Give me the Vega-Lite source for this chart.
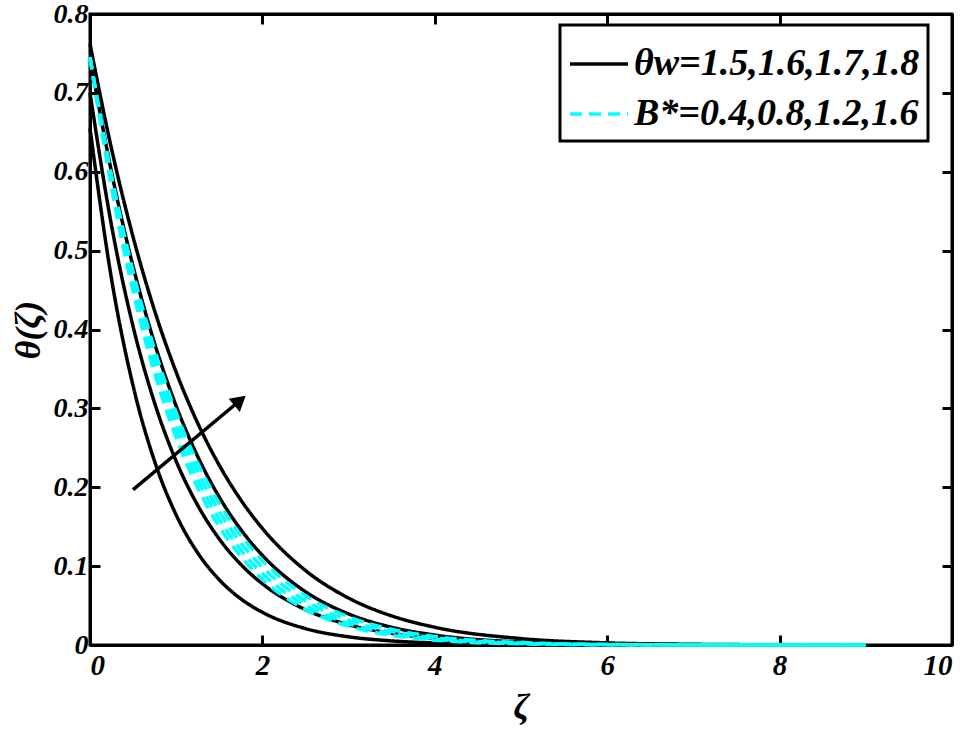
{
  "$schema": "https://vega.github.io/schema/vega-lite/v6.json",
  "width": 862,
  "height": 631,
  "autosize": "none",
  "padding": {"left": 90, "top": 14, "right": 17, "bottom": 85},
  "background": "white",
  "config": {
    "view": {"stroke": "black", "strokeWidth": 3},
    "font": "Liberation Serif",
    "axis": {
      "grid": false,
      "domainColor": "black",
      "domainWidth": 3,
      "tickColor": "black",
      "tickWidth": 3,
      "tickSize": -10
    }
  },
  "datasets": {
    "curves": [
      {"z":0,"t":0.655,"c":"A","g":"w"},{"z":0.25,"t":0.4639,"c":"A","g":"w"},{"z":0.5,"t":0.3285,"c":"A","g":"w"},{"z":0.75,"t":0.2327,"c":"A","g":"w"},{"z":1,"t":0.1648,"c":"A","g":"w"},{"z":1.25,"t":0.1167,"c":"A","g":"w"},{"z":1.5,"t":0.0827,"c":"A","g":"w"},{"z":1.75,"t":0.0585,"c":"A","g":"w"},{"z":2,"t":0.0415,"c":"A","g":"w"},{"z":2.5,"t":0.0208,"c":"A","g":"w"},{"z":3,"t":0.0104,"c":"A","g":"w"},{"z":3.5,"t":0.0052,"c":"A","g":"w"},{"z":4,"t":0.0026,"c":"A","g":"w"},{"z":5,"t":0.0007,"c":"A","g":"w"},{"z":6,"t":0.0002,"c":"A","g":"w"},{"z":7,"t":0,"c":"A","g":"w"},{"z":8,"t":0,"c":"A","g":"w"},{"z":9,"t":0,"c":"A","g":"w"},
      {"z":0,"t":0.700,"c":"B","g":"w"},{"z":0.25,"t":0.5317,"c":"B","g":"w"},{"z":0.5,"t":0.4038,"c":"B","g":"w"},{"z":0.75,"t":0.3067,"c":"B","g":"w"},{"z":1,"t":0.2330,"c":"B","g":"w"},{"z":1.25,"t":0.1770,"c":"B","g":"w"},{"z":1.5,"t":0.1344,"c":"B","g":"w"},{"z":1.75,"t":0.1021,"c":"B","g":"w"},{"z":2,"t":0.0776,"c":"B","g":"w"},{"z":2.5,"t":0.0448,"c":"B","g":"w"},{"z":3,"t":0.0258,"c":"B","g":"w"},{"z":3.5,"t":0.0149,"c":"B","g":"w"},{"z":4,"t":0.0086,"c":"B","g":"w"},{"z":5,"t":0.0029,"c":"B","g":"w"},{"z":6,"t":0.0010,"c":"B","g":"w"},{"z":7,"t":0.0003,"c":"B","g":"w"},{"z":8,"t":0.0001,"c":"B","g":"w"},{"z":9,"t":0,"c":"B","g":"w"},
      {"z":0,"t":0.745,"c":"C","g":"w"},{"z":0.25,"t":0.5994,"c":"C","g":"w"},{"z":0.5,"t":0.4798,"c":"C","g":"w"},{"z":0.75,"t":0.3822,"c":"C","g":"w"},{"z":1,"t":0.3029,"c":"C","g":"w"},{"z":1.25,"t":0.2389,"c":"C","g":"w"},{"z":1.5,"t":0.1874,"c":"C","g":"w"},{"z":1.75,"t":0.1463,"c":"C","g":"w"},{"z":2,"t":0.1137,"c":"C","g":"w"},{"z":2.5,"t":0.0676,"c":"C","g":"w"},{"z":3,"t":0.0394,"c":"C","g":"w"},{"z":3.5,"t":0.0225,"c":"C","g":"w"},{"z":4,"t":0.0126,"c":"C","g":"w"},{"z":5,"t":0.0037,"c":"C","g":"w"},{"z":6,"t":0.0010,"c":"C","g":"w"},{"z":7,"t":0.0003,"c":"C","g":"w"},{"z":8,"t":0.0001,"c":"C","g":"w"},{"z":9,"t":0,"c":"C","g":"w"},
      {"z":0,"t":0.762,"c":"D","g":"w"},{"z":0.25,"t":0.6290,"c":"D","g":"w"},{"z":0.5,"t":0.5172,"c":"D","g":"w"},{"z":0.75,"t":0.4237,"c":"D","g":"w"},{"z":1,"t":0.3458,"c":"D","g":"w"},{"z":1.25,"t":0.2812,"c":"D","g":"w"},{"z":1.5,"t":0.2278,"c":"D","g":"w"},{"z":1.75,"t":0.1839,"c":"D","g":"w"},{"z":2,"t":0.1478,"c":"D","g":"w"},{"z":2.5,"t":0.0945,"c":"D","g":"w"},{"z":3,"t":0.0595,"c":"D","g":"w"},{"z":3.5,"t":0.0369,"c":"D","g":"w"},{"z":4,"t":0.0225,"c":"D","g":"w"},{"z":5,"t":0.0081,"c":"D","g":"w"},{"z":6,"t":0.0027,"c":"D","g":"w"},{"z":7,"t":0.0009,"c":"D","g":"w"},{"z":8,"t":0.0003,"c":"D","g":"w"},{"z":9,"t":0.0001,"c":"D","g":"w"},
      {"z":0,"t":0.745,"c":"E","g":"b"},{"z":0.25,"t":0.5955,"c":"E","g":"b"},{"z":0.5,"t":0.4734,"c":"E","g":"b"},{"z":0.75,"t":0.3743,"c":"E","g":"b"},{"z":1,"t":0.2945,"c":"E","g":"b"},{"z":1.25,"t":0.2304,"c":"E","g":"b"},{"z":1.5,"t":0.1793,"c":"E","g":"b"},{"z":1.75,"t":0.1388,"c":"E","g":"b"},{"z":2,"t":0.1069,"c":"E","g":"b"},{"z":2.5,"t":0.0624,"c":"E","g":"b"},{"z":3,"t":0.0357,"c":"E","g":"b"},{"z":3.5,"t":0.0199,"c":"E","g":"b"},{"z":4,"t":0.0109,"c":"E","g":"b"},{"z":5,"t":0.0031,"c":"E","g":"b"},{"z":6,"t":0.0008,"c":"E","g":"b"},{"z":7,"t":0.0002,"c":"E","g":"b"},{"z":8,"t":0,"c":"E","g":"b"},{"z":9,"t":0,"c":"E","g":"b"},
      {"z":0,"t":0.745,"c":"F","g":"b"},{"z":0.25,"t":0.5902,"c":"F","g":"b"},{"z":0.5,"t":0.4649,"c":"F","g":"b"},{"z":0.75,"t":0.3641,"c":"F","g":"b"},{"z":1,"t":0.2835,"c":"F","g":"b"},{"z":1.25,"t":0.2196,"c":"F","g":"b"},{"z":1.5,"t":0.1690,"c":"F","g":"b"},{"z":1.75,"t":0.1294,"c":"F","g":"b"},{"z":2,"t":0.0985,"c":"F","g":"b"},{"z":2.5,"t":0.0561,"c":"F","g":"b"},{"z":3,"t":0.0312,"c":"F","g":"b"},{"z":3.5,"t":0.0170,"c":"F","g":"b"},{"z":4,"t":0.0090,"c":"F","g":"b"},{"z":5,"t":0.0024,"c":"F","g":"b"},{"z":6,"t":0.0006,"c":"F","g":"b"},{"z":7,"t":0.0001,"c":"F","g":"b"},{"z":8,"t":0,"c":"F","g":"b"},{"z":9,"t":0,"c":"F","g":"b"},
      {"z":0,"t":0.745,"c":"G","g":"b"},{"z":0.25,"t":0.5850,"c":"G","g":"b"},{"z":0.5,"t":0.4566,"c":"G","g":"b"},{"z":0.75,"t":0.3541,"c":"G","g":"b"},{"z":1,"t":0.2730,"c":"G","g":"b"},{"z":1.25,"t":0.2092,"c":"G","g":"b"},{"z":1.5,"t":0.1593,"c":"G","g":"b"},{"z":1.75,"t":0.1205,"c":"G","g":"b"},{"z":2,"t":0.0907,"c":"G","g":"b"},{"z":2.5,"t":0.0504,"c":"G","g":"b"},{"z":3,"t":0.0273,"c":"G","g":"b"},{"z":3.5,"t":0.0144,"c":"G","g":"b"},{"z":4,"t":0.0074,"c":"G","g":"b"},{"z":5,"t":0.0018,"c":"G","g":"b"},{"z":6,"t":0.0004,"c":"G","g":"b"},{"z":7,"t":0.0001,"c":"G","g":"b"},{"z":8,"t":0,"c":"G","g":"b"},{"z":9,"t":0,"c":"G","g":"b"},
      {"z":0,"t":0.745,"c":"H","g":"b"},{"z":0.25,"t":0.5798,"c":"H","g":"b"},{"z":0.5,"t":0.4484,"c":"H","g":"b"},{"z":0.75,"t":0.3444,"c":"H","g":"b"},{"z":1,"t":0.2628,"c":"H","g":"b"},{"z":1.25,"t":0.1992,"c":"H","g":"b"},{"z":1.5,"t":0.1500,"c":"H","g":"b"},{"z":1.75,"t":0.1123,"c":"H","g":"b"},{"z":2,"t":0.0834,"c":"H","g":"b"},{"z":2.5,"t":0.0452,"c":"H","g":"b"},{"z":3,"t":0.0238,"c":"H","g":"b"},{"z":3.5,"t":0.0122,"c":"H","g":"b"},{"z":4,"t":0.0061,"c":"H","g":"b"},{"z":5,"t":0.0014,"c":"H","g":"b"},{"z":6,"t":0.0003,"c":"H","g":"b"},{"z":7,"t":0,"c":"H","g":"b"},{"z":8,"t":0,"c":"H","g":"b"},{"z":9,"t":0,"c":"H","g":"b"}
    ],
    "arrow": [{"x1": 0.5, "y1": 0.197, "x2": 1.74, "y2": 0.31}],
    "head": [{"x": 1.74, "y": 0.31}]
  },
  "layer": [
    {
      "data": {"name": "curves"},
      "transform": [{"filter": "datum.g == 'w'"}],
      "mark": {"type": "line", "interpolate": "monotone", "strokeWidth": 3.5},
      "encoding": {
        "x": {"field": "z", "type": "quantitative", "scale": {"domain": [0, 10], "nice": false, "zero": false},
              "axis": {"orient": "bottom", "values": [0, 2, 4, 6, 8, 10], "title": "ζ", "labelPadding": 16, "titlePadding": 10,
                "labelFont": "Liberation Serif", "labelFontSize": 29, "labelFontStyle": "italic", "labelFontWeight": "bold", "labelColor": "black",
                "titleFont": "Liberation Serif", "titleFontSize": 36, "titleFontStyle": "italic", "titleFontWeight": "bold", "titleColor": "black"}},
        "y": {"field": "t", "type": "quantitative", "scale": {"domain": [0, 0.8], "nice": false},
              "axis": {"orient": "left", "values": [0, 0.1, 0.2, 0.3, 0.4, 0.5, 0.6, 0.7, 0.8], "labelExpr": "datum.value == 0 ? '0' : format(datum.value, '.1f')", "title": "θ(ζ)", "labelPadding": 12, "titlePadding": 6,
                "labelFont": "Liberation Serif", "labelFontSize": 28, "labelFontStyle": "italic", "labelFontWeight": "bold", "labelColor": "black",
                "titleFont": "Liberation Serif", "titleFontSize": 36, "titleFontStyle": "italic", "titleFontWeight": "bold", "titleColor": "black"}},
        "detail": {"field": "c"},
        "color": {"field": "g", "type": "nominal", "scale": {"domain": ["w", "b"], "range": ["black", "#00FFFF"]},
          "legend": {"orient": "none", "legendX": 470, "legendY": 11, "title": null, "symbolType": "stroke", "symbolSize": 3364, "symbolStrokeWidth": 3.5,
            "labelFont": "Liberation Serif", "labelFontSize": 38, "labelFontStyle": "italic", "labelFontWeight": "bold", "labelColor": "black", "labelLimit": 0,
            "labelExpr": "datum.value == 'w' ? 'θw=1.5,1.6,1.7,1.8' : 'B*=0.4,0.8,1.2,1.6'",
            "strokeColor": "black", "fillColor": "white", "padding": 8, "rowPadding": -7, "labelOffset": 4,
            "encode": {"legend": {"update": {"strokeWidth": {"value": 3}}}}}},
        "strokeDash": {"field": "g", "type": "nominal", "scale": {"domain": ["w", "b"], "range": [[1, 0], [12, 7]]},
          "legend": {"orient": "none", "legendX": 470, "legendY": 11, "title": null, "symbolType": "stroke", "symbolSize": 3364, "symbolStrokeWidth": 3.5,
            "labelFont": "Liberation Serif", "labelFontSize": 38, "labelFontStyle": "italic", "labelFontWeight": "bold", "labelColor": "black", "labelLimit": 0,
            "labelExpr": "datum.value == 'w' ? 'θw=1.5,1.6,1.7,1.8' : 'B*=0.4,0.8,1.2,1.6'",
            "strokeColor": "black", "fillColor": "white", "padding": 8, "rowPadding": -7, "labelOffset": 4,
            "encode": {"legend": {"update": {"strokeWidth": {"value": 3}}}}}}
      }
    },
    {
      "data": {"name": "curves"},
      "transform": [{"filter": "datum.g == 'b'"}],
      "mark": {"type": "line", "interpolate": "monotone", "strokeWidth": 3.5},
      "encoding": {
        "x": {"field": "z", "type": "quantitative", "axis": null},
        "y": {"field": "t", "type": "quantitative", "axis": null},
        "detail": {"field": "c"},
        "color": {"field": "g", "type": "nominal"},
        "strokeDash": {"field": "g", "type": "nominal"}
      }
    },
    {
      "data": {"name": "arrow"},
      "mark": {"type": "rule", "color": "black", "strokeWidth": 3.5},
      "encoding": {
        "x": {"field": "x1", "type": "quantitative", "axis": {"orient": "top", "values": [0, 2, 4, 6, 8, 10], "labels": false, "title": null}},
        "y": {"field": "y1", "type": "quantitative", "axis": {"orient": "right", "values": [0, 0.1, 0.2, 0.3, 0.4, 0.5, 0.6, 0.7, 0.8], "labels": false, "title": null}},
        "x2": {"field": "x2"},
        "y2": {"field": "y2"}
      }
    },
    {
      "data": {"name": "head"},
      "mark": {"type": "point", "shape": "triangle-up", "filled": true, "color": "black", "opacity": 1, "size": 300, "angle": 50},
      "encoding": {
        "x": {"field": "x", "type": "quantitative", "axis": null},
        "y": {"field": "y", "type": "quantitative", "axis": null}
      }
    }
  ],
  "resolve": {"axis": {"x": "independent", "y": "independent"}}
}
